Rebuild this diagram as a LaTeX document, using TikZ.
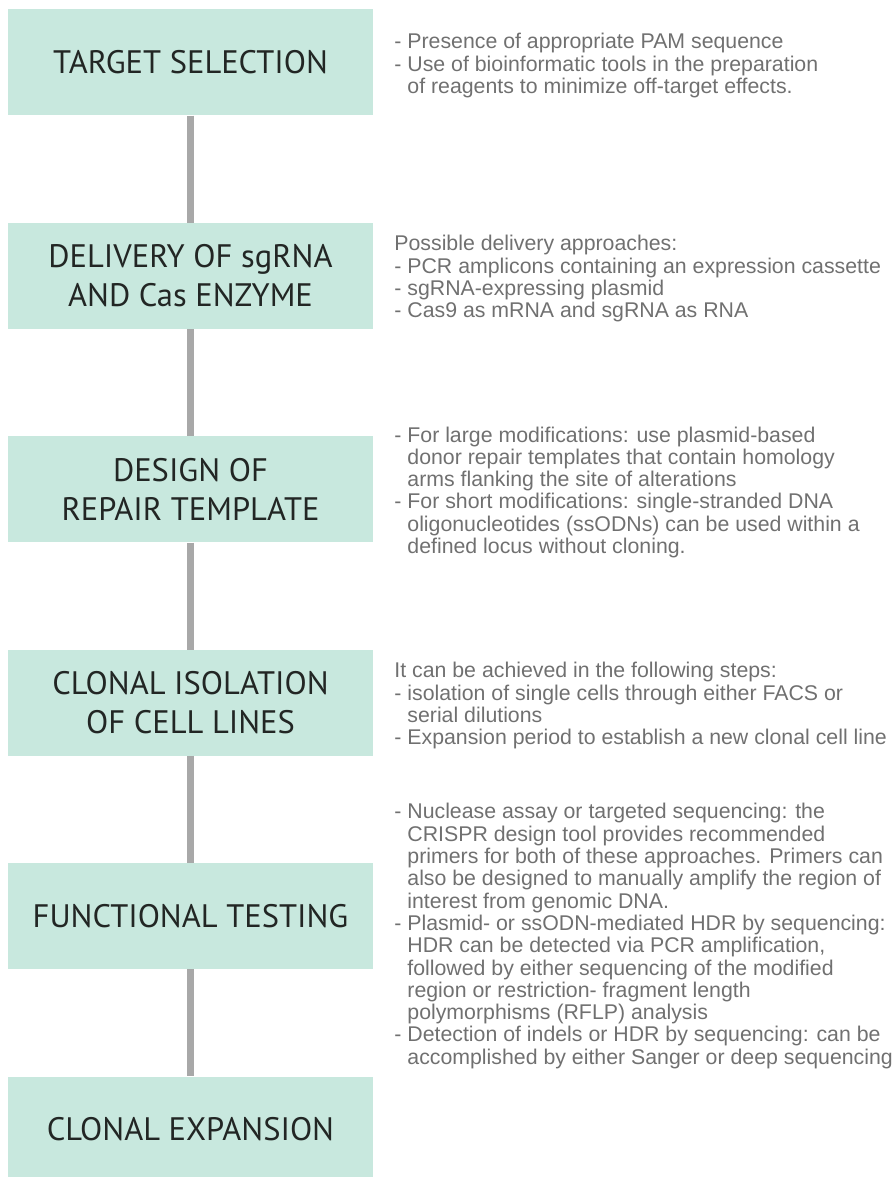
\documentclass[tikz,border=0pt]{standalone}
\usepackage{fontspec}
\setmainfont{Liberation Sans}
\newfontfamily\stagefont{PT Sans}
\usetikzlibrary{positioning}
\definecolor{stagefill}{RGB}{200,232,222}
\definecolor{stagetext}{RGB}{34,38,36}
\definecolor{notegray}{RGB}{112,112,112}
\definecolor{linkgray}{RGB}{168,168,168}
\newcommand{\ind}{\hphantom{- }}
\tikzset{
	stage/.style={fill=stagefill, minimum width=365pt, minimum height=106pt,
		inner sep=0pt, align=center, text=stagetext,
		font=\stagefont\fontsize{32.5}{39}\selectfont},
	note/.style={anchor=west, inner sep=0pt, align=left, text=notegray,
		yshift=-3pt, font=\fontsize{21.3}{22.3}\selectfont},
	link/.style={draw=linkgray, line width=7pt}
}

\begin{document}
\begin{tikzpicture}[x=1pt,y=-1pt]
	\useasboundingbox (0,0) rectangle (891,1177);

	\node[stage] (target) at (190.5,62.5) {TARGET SELECTION};
	\node[stage, below=107pt of target] (delivery) {DELIVERY OF sgRNA\\AND Cas ENZYME};
	\node[stage, below=107pt of delivery] (repair) {DESIGN OF\\REPAIR TEMPLATE};
	\node[stage, below=107pt of repair] (isolation) {CLONAL ISOLATION\\OF CELL LINES};
	\node[stage, below=107pt of isolation] (testing) {FUNCTIONAL TESTING};
	\node[stage, below=107pt of testing] (expansion) {CLONAL EXPANSION};

	\draw[link] (target) -- (delivery);
	\draw[link] (delivery) -- (repair);
	\draw[link] (repair) -- (isolation);
	\draw[link] (isolation) -- (testing);
	\draw[link] (testing) -- (expansion);

	\node[note, right=21pt of target] (targetnote)
		{- Presence of appropriate PAM sequence\\
		- Use of bioinformatic tools in the preparation\\
		\ind of reagents to minimize off-target effects.};
	\node[note, right=21pt of delivery] (deliverynote)
		{Possible delivery approaches:\\
		- PCR amplicons containing an expression cassette\\
		- sgRNA-expressing plasmid\\
		- Cas9 as mRNA and sgRNA as RNA};
	\node[note, right=21pt of repair] (repairnote)
		{- For large modifications: use plasmid-based\\
		\ind donor repair templates that contain homology\\
		\ind arms flanking the site of alterations\\
		- For short modifications: single-stranded DNA\\
		\ind oligonucleotides (ssODNs) can be used within a\\
		\ind defined locus without cloning.};
	\node[note, right=21pt of isolation] (isolationnote)
		{It can be achieved in the following steps:\\
		- isolation of single cells through either FACS or\\
		\ind serial dilutions\\
		- Expansion period to establish a new clonal cell line};
	\node[note, right=21pt of testing, yshift=-17pt] (testingnote)
		{- Nuclease assay or targeted sequencing: the\\
		\ind CRISPR design tool provides recommended\\
		\ind primers for both of these approaches. Primers can\\
		\ind also be designed to manually amplify the region of\\
		\ind interest from genomic DNA.\\
		- Plasmid- or ssODN-mediated HDR by sequencing:\\
		\ind HDR can be detected via PCR amplification,\\
		\ind followed by either sequencing of the modified\\
		\ind region or restriction- fragment length\\
		\ind polymorphisms (RFLP) analysis\\
		- Detection of indels or HDR by sequencing: can be\\
		\ind accomplished by either Sanger or deep sequencing};
\end{tikzpicture}
\end{document}
